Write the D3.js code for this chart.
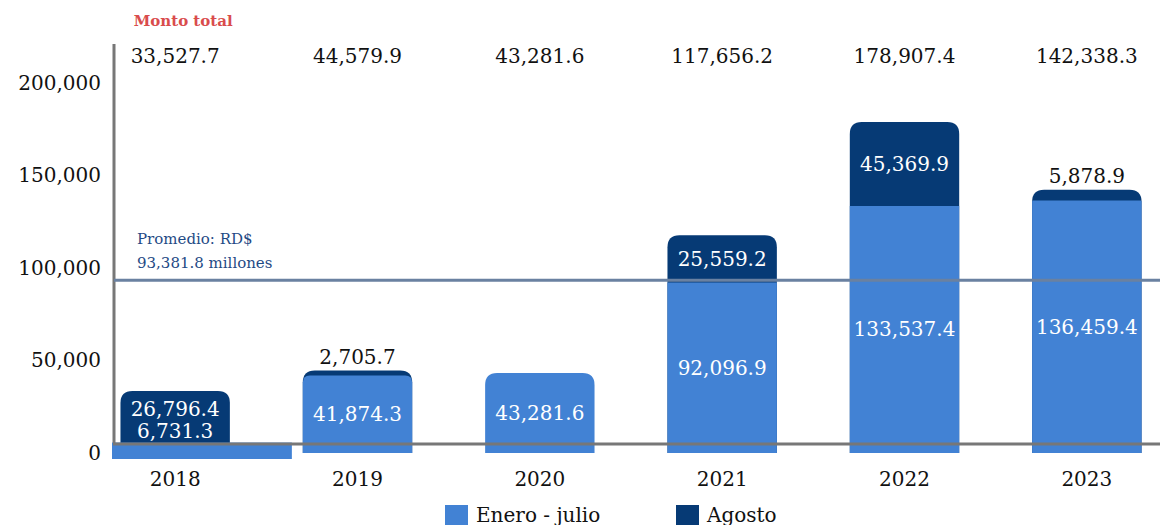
<!DOCTYPE html>
<html>
<head>
<meta charset="utf-8">
<script src="https://cdn.jsdelivr.net/npm/d3@7"></script>
<style>
  body { margin: 0; background: #fff; }
  svg text { font-family: "DejaVu Serif", Georgia, serif; }
</style>
</head>
<body>
<div id="chart"></div>
<script>
// data
const years = ['2018', '2019', '2020', '2021', '2022', '2023'];
const eneroJulio = [6731.3, 41874.3, 43281.6, 92096.9, 133537.4, 136459.4];
const agosto = [26796.4, 2705.7, 0, 25559.2, 45369.9, 5878.9];
const totals = [33527.7, 44579.9, 43281.6, 117656.2, 178907.4, 142338.3];
const yTicks = [0, 50000, 100000, 150000, 200000];
const promedio = 93381.8;

// chart static params
const width = 1160, height = 525;
const colorLight = '#4282d4';
const colorDark = '#063a75';
const axisGrey = '#777777';
const radius = 12;
const fmt = d3.format(',.1f');

const xScale = d3.scaleBand()
    .domain(years)
    .range([84, 1178])
    .paddingInner(0.4)
    .paddingOuter(0.2);

const yScale = d3.scaleLinear()
    .domain([0, 200000])
    .range([453, 83]);

const axisX = 114;

const svg = d3.select('#chart')
  .append('svg')
    .attr('width', width)
    .attr('height', height);

// rect with rounded top corners only
function topRounded(x, y, w, h, r) {
  r = Math.max(0, Math.min(r, h, w / 2));
  return `M${x},${y + h}V${y + r}Q${x},${y} ${x + r},${y}H${x + w - r}Q${x + w},${y} ${x + w},${y + r}V${y + h}Z`;
}

// y axis labels
const yAxis = svg.append('g')
    .attr('transform', `translate(${axisX},0)`)
    .call(d3.axisLeft(yScale).tickValues(yTicks).tickFormat(d3.format(',')).tickSize(0).tickPadding(13));
yAxis.select('.domain').remove();
yAxis.selectAll('text')
    .style('font-family', '"DejaVu Serif", serif')
    .style('font-size', '20px')
    .attr('fill', '#111');

// bars
const bars = svg.append('g');
years.forEach((yr, i) => {
  const x = xScale(yr), w = xScale.bandwidth();
  const yTot = yScale(totals[i]);
  const yEne = yScale(eneroJulio[i]);
  const darkH = yEne - yTot;
  if (agosto[i] > 0) {
    bars.append('path')
      .attr('d', topRounded(x, yTot, w, yScale(0) - yTot, radius))
      .attr('fill', colorDark);
  }
  if (yScale(0) - yEne >= 20) {
    bars.append('path')
      .attr('d', topRounded(x, yEne, w, yScale(0) - yEne, agosto[i] > 0 ? radius - darkH : radius))
      .attr('fill', colorLight);
  }
});

// vertical axis line
svg.append('line')
    .attr('x1', axisX).attr('x2', axisX)
    .attr('y1', 44).attr('y2', yScale(0) - 10)
    .attr('stroke', axisGrey).attr('stroke-width', 3);

// bottom axis line
svg.append('line')
    .attr('x1', axisX - 1).attr('x2', width)
    .attr('y1', yScale(0) - 9).attr('y2', yScale(0) - 9)
    .attr('stroke', axisGrey).attr('stroke-width', 3);

// small first segment (drawn as a wide strip over the axis)
years.forEach((yr, i) => {
  const yEne = yScale(eneroJulio[i]);
  if (yScale(0) - yEne < 20) {
    const x0 = axisX - 2;
    const x1 = xScale(yr) + xScale.bandwidth() + xScale.step() * 0.34;
    bars.append('rect')
      .attr('x', x0).attr('y', yEne + 2)
      .attr('width', x1 - x0).attr('height', yScale(0) - yEne + 4)
      .attr('fill', colorLight);
  }
});

// average line
svg.append('line')
    .attr('x1', axisX).attr('x2', width)
    .attr('y1', yScale(promedio)).attr('y2', yScale(promedio))
    .attr('stroke', '#6a81a1').attr('stroke-width', 3);

svg.append('text')
    .attr('x', 137).attr('y', yScale(promedio) - 36)
    .attr('fill', '#1f4a85').style('font-size', '15px')
    .text('Promedio: RD$');
svg.append('text')
    .attr('x', 137).attr('y', yScale(promedio) - 12)
    .attr('fill', '#1f4a85').style('font-size', '15px')
    .text(fmt(promedio) + ' millones');

// segment labels
const labels = svg.append('g').style('font-size', '20px').attr('text-anchor', 'middle');
years.forEach((yr, i) => {
  const cx = xScale(yr) + xScale.bandwidth() / 2;
  const yTot = yScale(totals[i]);
  const yEne = yScale(eneroJulio[i]);
  const eneH = yScale(0) - yEne;
  const darkH = yEne - yTot;
  const smallBottom = eneH < 20;

  if (smallBottom) {
    labels.append('text').attr('x', cx).attr('y', yEne - 10).attr('dy', '0.35em')
      .attr('fill', '#fff').text(fmt(eneroJulio[i]));
  } else {
    labels.append('text').attr('x', cx).attr('y', (yEne + yScale(0)) / 2).attr('dy', '0.35em')
      .attr('fill', '#fff').text(fmt(eneroJulio[i]));
  }

  if (agosto[i] > 0) {
    if (smallBottom) {
      labels.append('text').attr('x', cx).attr('y', yEne - 32).attr('dy', '0.35em')
        .attr('fill', '#fff').text(fmt(agosto[i]));
    } else if (darkH >= 20) {
      labels.append('text').attr('x', cx).attr('y', (yTot + yEne) / 2).attr('dy', '0.35em')
        .attr('fill', '#fff').text(fmt(agosto[i]));
    } else {
      labels.append('text').attr('x', cx).attr('y', yTot - 7)
        .attr('fill', '#111').text(fmt(agosto[i]));
    }
  }

  // totals row
  labels.append('text').attr('x', cx).attr('y', 63)
    .attr('fill', '#111').text(fmt(totals[i]));

  // year labels
  labels.append('text').attr('x', cx).attr('y', 486)
    .attr('fill', '#111').text(yr);
});

// title of totals row
svg.append('text')
    .attr('x', xScale(years[0]) + xScale.bandwidth() / 2 + 8).attr('y', 26)
    .attr('text-anchor', 'middle')
    .attr('fill', '#d94c4c')
    .style('font-size', '15px').style('font-weight', 'bold')
    .text('Monto total');

// legend
const legendItems = [
  {label: 'Enero - julio', color: colorLight, x: 445},
  {label: 'Agosto', color: colorDark, x: 676}
];
const legend = svg.append('g');
legendItems.forEach(d => {
  legend.append('rect')
    .attr('x', d.x).attr('y', 505)
    .attr('width', 23).attr('height', 22)
    .attr('fill', d.color);
  legend.append('text')
    .attr('x', d.x + 31).attr('y', 522)
    .attr('fill', '#111').style('font-size', '20px')
    .text(d.label);
});
</script>
</body>
</html>
